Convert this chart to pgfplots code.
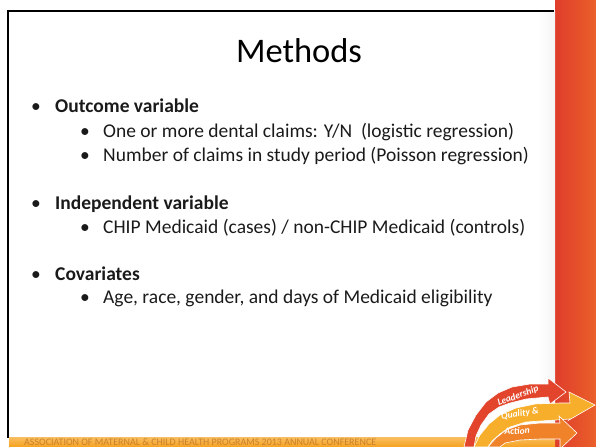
\documentclass[border=0pt]{standalone}
\usepackage{fontspec}
\setmainfont{Carlito}
\usepackage{pgfplots}
\pgfplotsset{compat=1.18}
\definecolor{txt}{HTML}{1A1A1A}
\definecolor{stripA}{HTML}{DF3D2B}
\definecolor{stripB}{HTML}{EA602A}
\definecolor{barc}{HTML}{F6A21E}
\definecolor{bartxt}{HTML}{C9802C}
\definecolor{lred}{HTML}{E2452B}
\definecolor{lyel}{HTML}{F7AE2B}
\definecolor{lora}{HTML}{F0832A}
\newcommand{\body}{\fontsize{19.5bp}{23bp}\selectfont}
\begin{document}
\begin{tikzpicture}
\begin{axis}[width=596bp,height=447bp,scale only axis,hide axis,
  xmin=0,xmax=596,ymin=0,ymax=447,y dir=reverse,clip=true]
% right strip
\addplot[draw=none,left color=stripA,right color=stripB] coordinates {(555,0)(596,0)(596,447)(555,447)} -- cycle;
% faint fade left of strip
\addplot[draw=none,left color=white,right color=black!4] coordinates {(538,12)(555,12)(555,438)(538,438)} -- cycle;
% bottom strip
\addplot[draw=none,top color=barc!70,bottom color=barc] coordinates {(9,437)(555,437)(555,447)(9,447)} -- cycle;
% frame
\addplot[black,line width=2bp] coordinates {(8,438)(8,11)(554,11)};
% logo: red arrow
\addplot[fill=lred,draw=white,line width=0.6bp] coordinates {(464,447)(468,430)(476,415)(486,402)(498,393)(512,387)(530,384)(548,384)(548,378)(566,392)(550,404)(548,397)(526,399)(510,403)(499,407)(489,414)(481,425)(476,436)(474,447)} -- cycle;
% yellow arrow
\addplot[fill=lyel,draw=white,line width=0.6bp] coordinates {(474,447)(480,435)(489,424)(500,415)(516,408)(535,404)(560,403)(570,403)(569,392)(595,405)(569,420)(570,419)(556,420)(526,422)(510,427)(500,434)(492,441)(488,447)} -- cycle;
% orange arrow
\addplot[fill=lora,draw=white,line width=0.6bp] coordinates {(488,447)(496,438)(506,430)(520,425)(540,423)(560,423)(559,416)(577,433)(560,449)(560,439)(540,439)(520,440)(505,443)(500,447)} -- cycle;
\node[white,font=\fontsize{9.5bp}{10bp}\selectfont\bfseries\itshape,rotate=20] at (axis cs:518,396) {Leadership};
\node[white,font=\fontsize{9.5bp}{10bp}\selectfont\bfseries\itshape,rotate=8] at (axis cs:520,414) {Quality \&};
\node[white,font=\fontsize{9.5bp}{10bp}\selectfont\bfseries\itshape,rotate=3] at (axis cs:517,431) {Action};
% title
\node[anchor=base,inner sep=0,font=\fontsize{34.5bp}{40bp}\selectfont] at (axis cs:299,63) {Methods};
% level 1
\node[anchor=base west,inner sep=0,text=txt,font=\body] at (axis cs:31,112) {•};
\node[anchor=base west,inner sep=0,text=txt,font=\body\bfseries] at (axis cs:55,112) {Outcome variable};
\node[anchor=base west,inner sep=0,text=txt,font=\body] at (axis cs:80,137) {•};
\node[anchor=base west,inner sep=0,text=txt,font=\body] at (axis cs:103,137) {One or more dental claims: Y/N\ \ (logistic regression)};
\node[anchor=base west,inner sep=0,text=txt,font=\body] at (axis cs:80,161) {•};
\node[anchor=base west,inner sep=0,text=txt,font=\body] at (axis cs:103,161) {Number of claims in study period (Poisson regression)};
\node[anchor=base west,inner sep=0,text=txt,font=\body] at (axis cs:31,209) {•};
\node[anchor=base west,inner sep=0,text=txt,font=\body\bfseries] at (axis cs:55,209) {Independent variable};
\node[anchor=base west,inner sep=0,text=txt,font=\body] at (axis cs:80,233) {•};
\node[anchor=base west,inner sep=0,text=txt,font=\body] at (axis cs:103,233) {CHIP Medicaid (cases) / non-CHIP Medicaid (controls)};
\node[anchor=base west,inner sep=0,text=txt,font=\body] at (axis cs:31,280) {•};
\node[anchor=base west,inner sep=0,text=txt,font=\body\bfseries] at (axis cs:55,280) {Covariates};
\node[anchor=base west,inner sep=0,text=txt,font=\body] at (axis cs:80,303) {•};
\node[anchor=base west,inner sep=0,text=txt,font=\body] at (axis cs:103,303) {Age, race, gender, and days of Medicaid eligibility};
% footer text
\node[anchor=base west,inner sep=0,text=bartxt,font=\fontsize{10bp}{11bp}\selectfont] at (axis cs:24,445.5) {ASSOCIATION OF MATERNAL \& CHILD HEALTH PROGRAMS 2013 ANNUAL CONFERENCE};
\coordinate (bl) at (axis cs:0,447);
\coordinate (tr) at (axis cs:596,0);
\end{axis}
\pgfresetboundingbox
\useasboundingbox (bl) rectangle (tr);
\end{tikzpicture}
\end{document}
